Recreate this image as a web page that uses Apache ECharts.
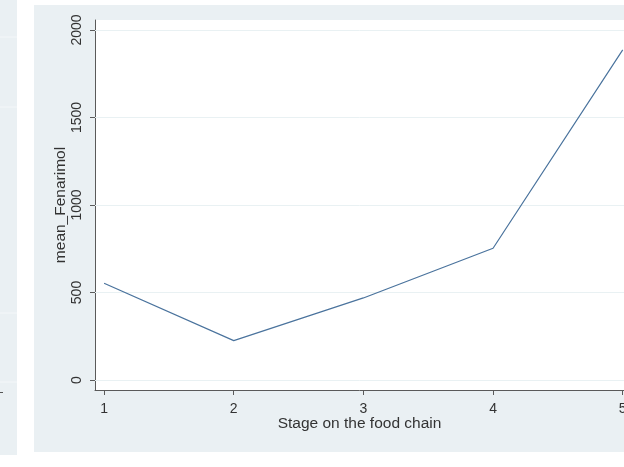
<!DOCTYPE html>
<html>
<head>
<meta charset="utf-8">
<script src="https://cdn.jsdelivr.net/npm/echarts@6/dist/echarts.min.js"></script>
<style>
  html, body { margin: 0; padding: 0; background: #ffffff; }
  #chart { width: 624px; height: 467px; }
</style>
</head>
<body>
<div id="chart"></div>
<script>
// Food-chain stage on x, mean Fenarimol concentration on y
const stages = [1, 2, 3, 4, 5];
const meanFenarimol = [553, 225, 469, 753, 1886];
const yTicks = [0, 500, 1000, 1500, 2000];
const xTicks = [1, 2, 3, 4, 5];

const panelColor = '#eaf0f3';
const axisColor = '#5a5a5a';
const textColor = '#333333';
const fontFamily = '"Liberation Sans", Arial, sans-serif';

const chart = echarts.init(document.getElementById('chart'), null, { renderer: 'canvas' });

const option = {
  backgroundColor: '#ffffff',
  animation: false,
  graphic: [
    // strip of a neighbouring panel on the far left
    { type: 'rect', z: -20, shape: { x: 0, y: 0, width: 17, height: 455 }, style: { fill: panelColor } },
    { type: 'line', z: -19, shape: { x1: 0, y1: 37, x2: 17, y2: 37 }, style: { stroke: '#f4f7f9', lineWidth: 1 } },
    { type: 'line', z: -19, shape: { x1: 0, y1: 107, x2: 17, y2: 107 }, style: { stroke: '#f4f7f9', lineWidth: 1 } },
    { type: 'line', z: -19, shape: { x1: 0, y1: 313, x2: 17, y2: 313 }, style: { stroke: '#f4f7f9', lineWidth: 1 } },
    { type: 'line', z: -19, shape: { x1: 0, y1: 382, x2: 17, y2: 382 }, style: { stroke: '#f4f7f9', lineWidth: 1 } },
    { type: 'line', z: -19, shape: { x1: 0, y1: 392.5, x2: 3, y2: 392.5 }, style: { stroke: '#555', lineWidth: 1 } },
    // graph region
    { type: 'rect', z: -20, shape: { x: 34, y: 5, width: 590, height: 447 }, style: { fill: panelColor } },
    // plot region
    { type: 'rect', z: -19, shape: { x: 95, y: 20, width: 529, height: 370 }, style: { fill: '#ffffff' } }
  ],
  grid: {
    left: 95,
    right: 0,
    top: 20,
    bottom: 77,
    show: false,
    outerBoundsMode: 'none',
    containLabel: false
  },
  xAxis: {
    type: 'value',
    min: 0.93,
    max: 5.01,
    name: 'Stage on the food chain',
    nameLocation: 'middle',
    nameGap: 26,
    nameMoveOverlap: false,
    nameTextStyle: { color: textColor, fontSize: 15.5, fontFamily: fontFamily },
    axisLine: { show: true, onZero: false, lineStyle: { color: axisColor, width: 1 } },
    axisTick: { show: true, inside: false, length: 5, customValues: xTicks, lineStyle: { color: axisColor } },
    axisLabel: { show: true, customValues: xTicks, margin: 12, color: textColor, fontSize: 14, fontFamily: fontFamily },
    splitLine: { show: false }
  },
  yAxis: {
    type: 'value',
    min: -57,
    max: 2057,
    name: 'mean_Fenarimol',
    nameLocation: 'middle',
    nameGap: 26,
    nameRotate: 90,
    nameMoveOverlap: false,
    nameTextStyle: { color: textColor, fontSize: 15.5, fontFamily: fontFamily },
    axisLine: { show: true, lineStyle: { color: axisColor, width: 1 } },
    axisTick: { show: true, inside: false, length: 5, customValues: yTicks, lineStyle: { color: axisColor } },
    axisLabel: {
      show: true, customValues: yTicks, rotate: 90, margin: 11,
      color: textColor, fontSize: 14, fontFamily: fontFamily,
      formatter: v => String(v)
    },
    splitLine: { show: false }
  },
  series: [
    {
      // horizontal grid lines at the labelled y ticks, kept beneath the data line
      type: 'line',
      data: [],
      z: 1,
      silent: true,
      markLine: {
        z: 1,
        silent: true,
        symbol: ['none', 'none'],
        label: { show: false },
        lineStyle: { color: '#e9f1f3', width: 1, type: 'solid' },
        data: yTicks.map(v => ({ yAxis: v }))
      }
    },
    {
      type: 'line',
      data: stages.map((s, i) => [s, meanFenarimol[i]]),
      symbol: 'none',
      lineStyle: { color: '#4a739d', width: 1.2 },
      z: 3
    }
  ]
};

chart.setOption(option);
</script>
</body>
</html>
